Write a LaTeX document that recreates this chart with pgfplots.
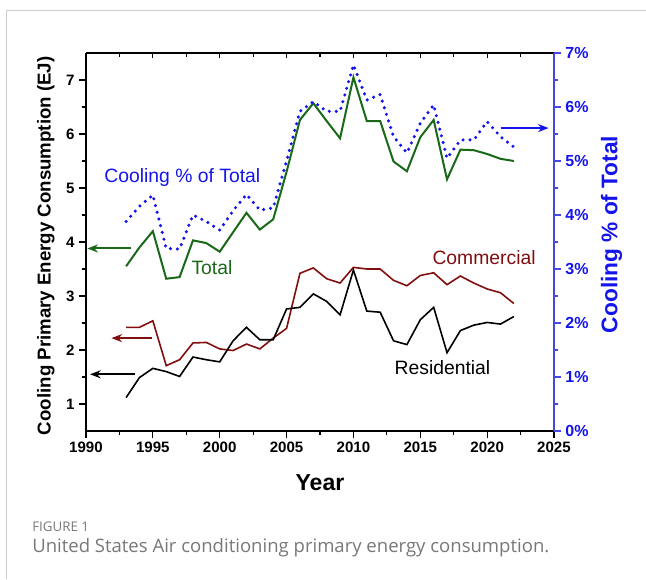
\documentclass[border=0pt]{standalone}
\usepackage{fontspec}
\setmainfont{Liberation Sans}
\newfontfamily\capfont{Open Sans}
\usepackage{pgfplots}
\usepackage{pgfplotstable}
\pgfplotsset{compat=1.18}
\usetikzlibrary{arrows.meta}
\definecolor{cgreen}{RGB}{25,105,25}
\definecolor{cred}{RGB}{130,15,15}
\definecolor{cblue}{RGB}{20,20,235}
\definecolor{axblue}{RGB}{70,70,225}
\definecolor{capgray}{RGB}{120,120,120}

\pgfplotstableread{
year total pct res com
1993 3.55 3.88 1.12 2.42
1994 3.90 4.16 1.49 2.42
1995 4.20 4.37 1.66 2.54
1996 3.32 3.38 1.60 1.71
1997 3.35 3.37 1.51 1.82
1998 4.03 4.00 1.87 2.13
1999 3.98 3.88 1.82 2.14
2000 3.82 3.72 1.78 2.02
2001 4.18 4.08 2.17 1.99
2002 4.54 4.38 2.42 2.11
2003 4.23 4.09 2.19 2.02
2004 4.42 4.13 2.19 2.22
2005 5.30 5.00 2.76 2.40
2006 6.26 5.92 2.79 3.42
2007 6.57 6.10 3.04 3.52
2008 6.24 5.92 2.90 3.32
2009 5.92 5.92 2.65 3.24
2010 7.05 6.78 3.48 3.53
2011 6.24 6.13 2.72 3.50
2012 6.24 6.23 2.70 3.50
2013 5.49 5.45 2.17 3.29
2014 5.31 5.15 2.10 3.19
2015 5.94 5.70 2.56 3.38
2016 6.26 6.04 2.79 3.43
2017 5.16 5.05 1.95 3.21
2018 5.71 5.39 2.36 3.37
2019 5.70 5.39 2.46 3.24
2020 5.63 5.73 2.51 3.13
2021 5.54 5.45 2.48 3.06
2022 5.50 5.26 2.62 2.86
}\data

\begin{document}
\begin{tikzpicture}[x=0.75pt,y=0.75pt]
\path[use as bounding box] (0,0) rectangle (646,579);
\draw[black!20, line width=0.6pt] (6,0) -- (6,569) -- (646,569);

\pgfplotsset{
  common/.style={
    at={(64.5pt,111pt)}, anchor=south west, scale only axis,
    width=351pt, height=283.5pt,
    xmin=1990, xmax=2025,
    /pgf/number format/assume math mode=true,
    /pgf/number format/1000 sep={},
    axis line style={line width=0.8pt},
    clip=false,
  }
}

% top axis (inside ticks)
\begin{axis}[common, ymin=0.5, ymax=7.5,
  axis x line*=top, axis y line=none,
  xtick={1990,1995,...,2025}, minor x tick num=1, xticklabels={},
  tick align=inside, major tick length=4pt, minor tick length=3pt,
  tick style={line width=0.8pt, black}]
\end{axis}

% left / bottom axis
\begin{axis}[common, ymin=0.5, ymax=7.5,
  axis x line*=bottom, axis y line*=left,
  xtick={1990,1995,...,2025}, minor x tick num=1,
  ytick={1,...,7}, minor y tick num=1,
  tick align=outside, major tick length=5pt, minor tick length=3pt,
  tick style={line width=0.8pt, black},
  ticklabel style={font=\fontsize{11.3}{13}\selectfont\bfseries},
  xlabel={Year},
  xlabel style={font=\fontsize{17.3}{20}\selectfont\bfseries, at={(axis description cs:0.5,-0.1376)}, anchor=center},
  ylabel={Cooling Primary Energy Consumption (EJ)},
  ylabel style={font=\fontsize{14}{16}\selectfont\bfseries, at={(axis description cs:-0.086,0.49)}, anchor=center, rotate=0},
]
\addplot[cgreen, line width=1.5pt] table[x=year, y=total] {\data};
\addplot[cred, line width=1.2pt] table[x=year, y=com] {\data};
\addplot[black, line width=1.2pt] table[x=year, y=res] {\data};

\draw[cgreen, line width=1.5pt, -{Stealth[length=8pt,width=6pt]}] (axis cs:1993.4,3.88) -- (axis cs:1990.1,3.88);
\draw[cred, line width=1.5pt, -{Stealth[length=8pt,width=6pt]}] (axis cs:1994.9,2.22) -- (axis cs:1991.9,2.22);
\draw[black, line width=1.5pt, -{Stealth[length=8pt,width=6pt]}] (axis cs:1993.7,1.55) -- (axis cs:1990.3,1.55);

\node[text=cblue, font=\fontsize{14.5}{17}\selectfont] at (axis cs:1997.2,5.2) {Cooling \% of Total};
\node[text=cgreen, font=\fontsize{14.5}{17}\selectfont] at (axis cs:1999.42,3.53) {Total};
\node[text=cred, font=\fontsize{14.5}{17}\selectfont] at (axis cs:2019.77,3.71) {Commercial};
\node[text=black, font=\fontsize{14.5}{17}\selectfont] at (axis cs:2016.66,1.67) {Residential};
\end{axis}

% right axis (percent)
\begin{axis}[common, ymin=0, ymax=7,
  axis x line=none, axis y line*=right,
  axis line style={line width=0.8pt, axblue},
  ytick={0,...,7}, minor y tick num=1,
  yticklabel={\pgfmathprintnumber{\tick}\%},
  tick align=outside, major tick length=5pt, minor tick length=3pt,
  tick style={line width=0.8pt, axblue},
  yticklabel style={font=\fontsize{12}{14}\selectfont\bfseries, text=cblue},
  ylabel={Cooling \% of Total},
  ylabel style={font=\fontsize{17}{20}\selectfont\bfseries, text=cblue, at={(axis description cs:1.123,0.52)}, anchor=center, rotate=0},
]
\addplot[cblue, line width=2.6pt, line cap=round, dash pattern=on 0pt off 5.2pt] table[x=year, y=pct] {\data};
\draw[cblue, line width=1.5pt, -{Stealth[length=8pt,width=6pt]}] (axis cs:2021,5.61) -- (axis cs:2024.6,5.61);
\end{axis}

\node[anchor=west, inner sep=0pt, text=capgray, font=\capfont\fontsize{10}{12}\selectfont] at (32,52) {FIGURE 1};
\node[anchor=west, inner sep=0pt, text=capgray, font=\capfont\fontsize{13.9}{16}\selectfont] at (32,31) {United States Air conditioning primary energy consumption.};
\end{tikzpicture}
\end{document}
